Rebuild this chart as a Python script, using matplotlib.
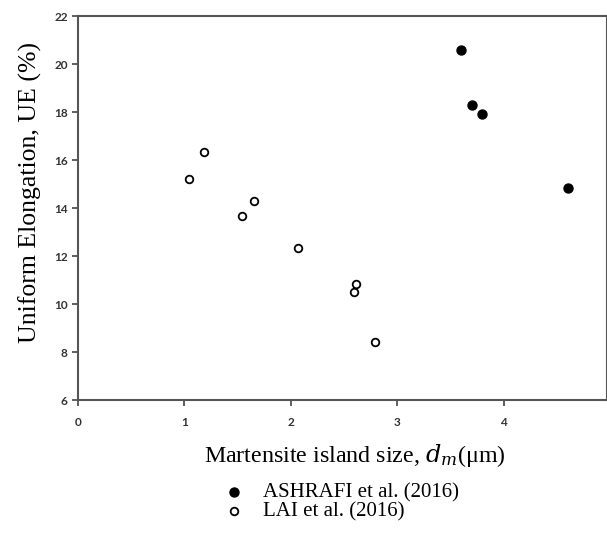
import numpy as np
import matplotlib.pyplot as plt

plt.rcParams["font.family"] = ["Liberation Serif", "DejaVu Serif"]
plt.rcParams["mathtext.fontset"] = "dejavuserif"

# ASHRAFI et al. (2016)
ashrafi_x = [3.60, 3.70, 3.80, 4.60]
ashrafi_y = [20.6, 18.3, 17.9, 14.85]

# LAI et al. (2016)
lai_x = [1.04, 1.18, 1.54, 1.65, 2.07, 2.61, 2.59, 2.79]
lai_y = [15.2, 16.33, 13.68, 14.3, 12.33, 10.83, 10.5, 8.43]

x_ticks = [0, 1, 2, 3, 4]
y_ticks = [6, 8, 10, 12, 14, 16, 18, 20, 22]

fig = plt.figure(figsize=(6.07, 5.6), dpi=100)
ax = fig.add_axes([0.1285, 0.2857, 0.8715, 0.6857])

ax.scatter(ashrafi_x, ashrafi_y, s=42, color="black", label="ASHRAFI et al. (2016)", zorder=3)
ax.scatter(lai_x, lai_y, s=30, facecolors="white", edgecolors="black", linewidths=1.3,
           label="LAI et al. (2016)", zorder=3)

ax.set_xlim(0, 4.97)
ax.set_ylim(6, 22)
ax.set_xticks(x_ticks)
ax.set_yticks(y_ticks)
ax.tick_params(direction="out", length=4, width=1.2, color="#444444", labelsize=8.5)
for lab in ax.get_xticklabels() + ax.get_yticklabels():
    lab.set_fontweight("bold")
    lab.set_color("#333333")
    lab.set_family(["Lato", "DejaVu Sans"])
ax.tick_params(axis="x", pad=8)

for side in ["top", "bottom", "left", "right"]:
    ax.spines[side].set_color("#555555")
    ax.spines[side].set_linewidth(1.5)

ax.set_ylabel("Uniform Elongation, UE (%)", fontsize=18.5)
ax.yaxis.set_label_coords(-0.068, 0.54)
ax.set_xlabel(r"Martensite island size, $d_m$(μm)", fontsize=17.3)
ax.xaxis.set_label_coords(0.524, -0.11)

fig.legend(loc="upper center", bbox_to_anchor=(0.553, 0.172), frameon=False, fontsize=15,
           handletextpad=0.4, labelspacing=0.0, markerscale=1.0)

fig.savefig("out.png", dpi=100)
